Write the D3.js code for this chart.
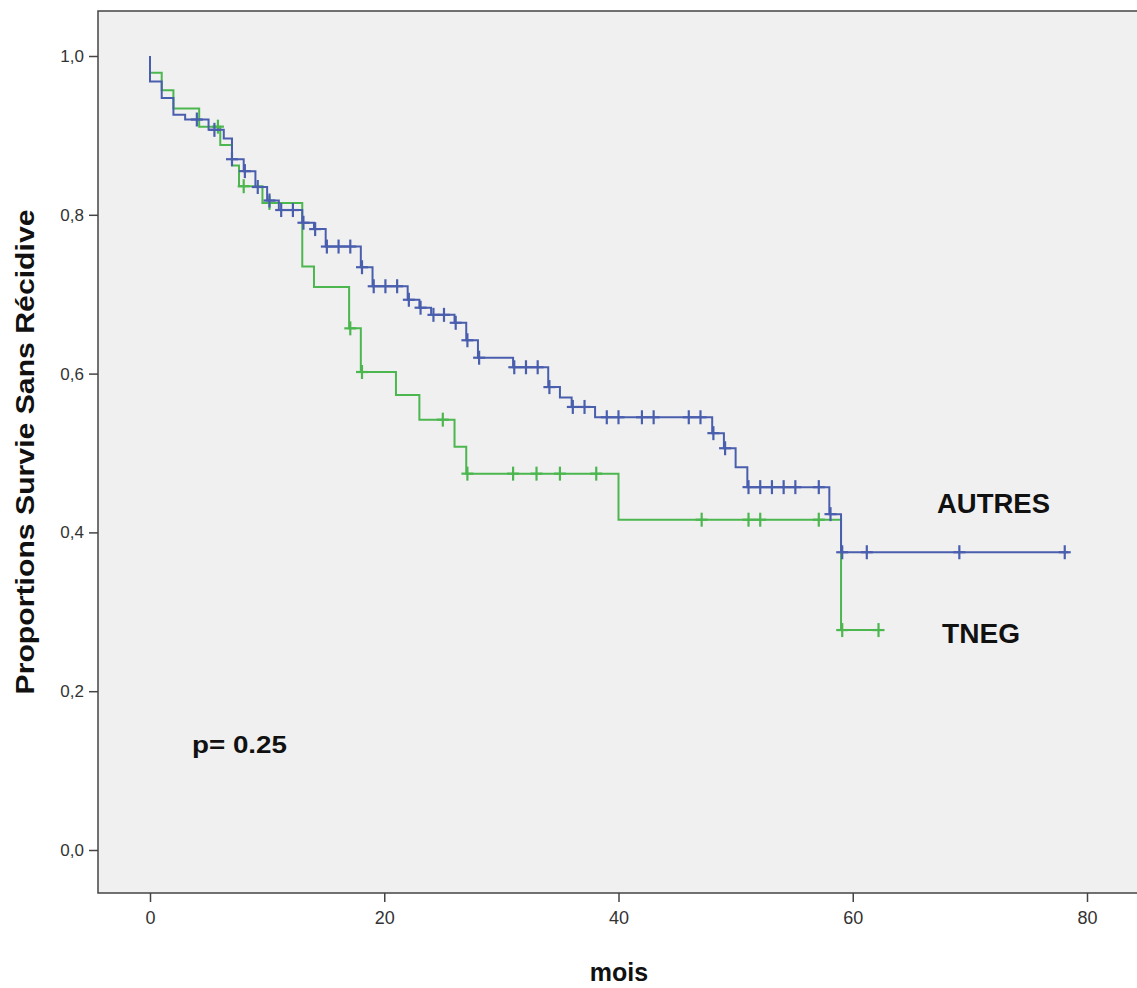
<!DOCTYPE html>
<html>
<head>
<meta charset="utf-8">
<script src="https://cdn.jsdelivr.net/npm/d3@7.9.0/dist/d3.min.js"></script>
<style>
  body { margin: 0; background: #fff; }
  svg text { font-family: "Liberation Sans Narrow", "Arial Narrow", "Liberation Sans", Arial, sans-serif; }
</style>
</head>
<body>
<svg id="chart" width="1137" height="988"></svg>
<script>
// ---- data ----
const xTicks = [0, 20, 40, 60, 80];
const yTicks = [0, 0.2, 0.4, 0.6, 0.8, 1.0];

// AUTRES : step times / survival after the step / censored times
const autresTimes = [0, 1, 2, 3, 5, 6.3, 7, 8, 9, 10, 11, 13, 14, 15, 18, 19, 22, 23, 24, 26, 27, 28, 31, 34, 35, 36, 38, 48, 49, 50, 51, 58, 59];
const autresSurv  = [0.968, 0.947, 0.926, 0.920, 0.907, 0.896, 0.870, 0.855, 0.835, 0.818, 0.806, 0.790, 0.782, 0.760, 0.734, 0.710, 0.693, 0.683, 0.674, 0.664, 0.642, 0.620, 0.608, 0.583, 0.570, 0.558, 0.545, 0.525, 0.506, 0.482, 0.457, 0.423, 0.375];
const autresCensor = [4, 5.5, 7, 8.1, 9.2, 10.2, 11.2, 12.2, 13.1, 14.1, 15.1, 16.1, 17.1, 18.1, 19.1, 20.1, 21.1, 22.1, 23.1, 24.2, 25.1, 26.1, 27.1, 28.1, 31.1, 32.1, 33.1, 34.1, 36.1, 37.1, 39, 40, 42, 43, 46, 47, 48.1, 49.1, 51.1, 52.1, 53.1, 54.1, 55.1, 57.1, 58.1, 59.1, 61.2, 69.1, 78.1];
const autresEnd = 78.4;

// TNEG
const tnegTimes = [0, 1, 2, 4.2, 6, 7, 7.6, 9.6, 13, 14, 17, 18, 21, 23, 26, 27, 40, 59];
const tnegSurv  = [0.979, 0.957, 0.934, 0.911, 0.888, 0.862, 0.836, 0.815, 0.735, 0.709, 0.657, 0.602, 0.573, 0.542, 0.508, 0.474, 0.416, 0.277];
const tnegCensor = [5.8, 8, 10.2, 17.1, 18.1, 25, 27.1, 31, 33, 35, 38.1, 47.1, 51.1, 52.1, 57.1, 59.1, 62.2];
const tnegEnd = 62.3;

const labels = ['AUTRES', 'TNEG'];

// ---- layout ----
const svg = d3.select('#chart');
const frame = { left: 98, top: 11, right: 1140, bottom: 893 };

const x = d3.scaleLinear().domain([0, 80]).range([150, 1087]);
const y = d3.scaleLinear().domain([0, 1]).range([850, 56]);

svg.append('rect')
  .attr('x', frame.left).attr('y', frame.top)
  .attr('width', frame.right - frame.left)
  .attr('height', frame.bottom - frame.top)
  .attr('fill', '#f0f0f0')
  .attr('stroke', '#444').attr('stroke-width', 1.5);

// axes
const yAxis = d3.axisLeft(y).tickValues(yTicks).tickSize(9).tickPadding(5)
  .tickFormat(d => d3.format('.1f')(d).replace('.', ','));
svg.append('g').attr('transform', `translate(${frame.left},0)`).call(yAxis)
  .call(g => g.select('.domain').remove())
  .call(g => g.selectAll('line').attr('stroke', '#444').attr('stroke-width', 1.5))
  .call(g => g.selectAll('text').attr('font-size', 17).attr('fill', '#333')
    .style('font-family', '"Liberation Sans", Arial, sans-serif'));

const xAxis = d3.axisBottom(x).tickValues(xTicks).tickSize(9).tickPadding(9);
svg.append('g').attr('transform', `translate(0,${frame.bottom})`).call(xAxis)
  .call(g => g.select('.domain').remove())
  .call(g => g.selectAll('line').attr('stroke', '#444').attr('stroke-width', 1.5))
  .call(g => g.selectAll('text').attr('font-size', 18).attr('fill', '#333'));

// axis titles
svg.append('text')
  .attr('transform', 'translate(34,452) rotate(-90)')
  .attr('text-anchor', 'middle')
  .attr('font-size', 26).attr('font-weight', 'bold').attr('fill', '#111')
  .attr('textLength', 485).attr('lengthAdjust', 'spacingAndGlyphs')
  .text('Proportions Survie Sans Récidive');

svg.append('text')
  .attr('x', 619).attr('y', 981)
  .attr('text-anchor', 'middle')
  .attr('font-size', 25).attr('font-weight', 'bold').attr('fill', '#111')
  .text('mois');

// ---- curves ----
function stepValue(times, surv, t) {
  let s = 1;
  times.forEach((tt, i) => { if (tt <= t) s = surv[i]; });
  return s;
}

function drawCurve(times, surv, censor, end, color) {
  const pts = [[0, 1]].concat(times.map((t, i) => [t, surv[i]]));
  pts.push([end, surv[surv.length - 1]]);
  const line = d3.line().x(d => x(d[0])).y(d => y(d[1])).curve(d3.curveStepAfter);
  svg.append('path').attr('d', line(pts))
    .attr('fill', 'none').attr('stroke', color).attr('stroke-width', 2);

  const g = svg.append('g').attr('stroke', color).attr('stroke-width', 2.2);
  censor.forEach(t => {
    const cx = x(t), cy = y(stepValue(times, surv, t));
    g.append('line').attr('x1', cx).attr('x2', cx).attr('y1', cy - 7).attr('y2', cy + 7);
    g.append('line').attr('x1', cx - 6).attr('x2', cx + 6).attr('y1', cy).attr('y2', cy);
  });
}

drawCurve(tnegTimes, tnegSurv, tnegCensor, tnegEnd, '#4cb64f');
drawCurve(autresTimes, autresSurv, autresCensor, autresEnd, '#4a5eae');

// ---- annotations ----
const bold = '"Liberation Sans", Arial, sans-serif';
svg.append('text').attr('x', 937).attr('y', 513)
  .attr('font-size', 27).attr('font-weight', 'bold').attr('fill', '#111')
  .attr('textLength', 113).attr('lengthAdjust', 'spacingAndGlyphs')
  .style('font-family', bold).text(labels[0]);
svg.append('text').attr('x', 942).attr('y', 643)
  .attr('font-size', 27).attr('font-weight', 'bold').attr('fill', '#111')
  .attr('textLength', 78).attr('lengthAdjust', 'spacingAndGlyphs')
  .style('font-family', bold).text(labels[1]);
svg.append('text').attr('x', 192).attr('y', 753)
  .attr('font-size', 24).attr('font-weight', 'bold').attr('fill', '#111')
  .attr('textLength', 95).attr('lengthAdjust', 'spacingAndGlyphs')
  .style('font-family', bold).text('p= 0.25');
</script>
</body>
</html>
